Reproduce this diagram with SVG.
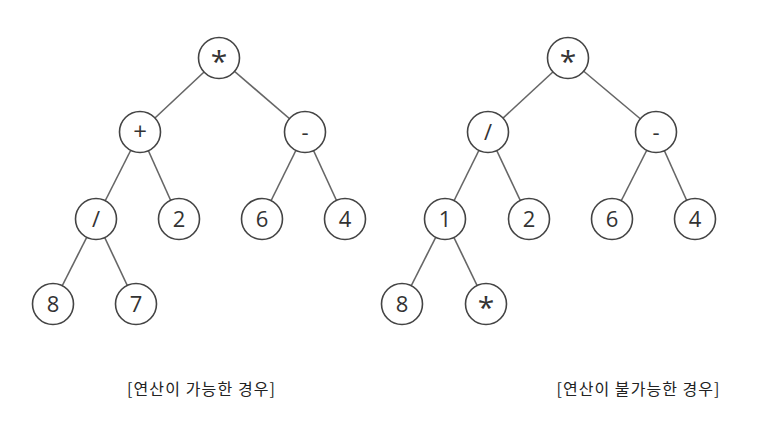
<svg xmlns="http://www.w3.org/2000/svg" width="759" height="427" viewBox="0 0 759 427">
<style>
.n circle{fill:#fff;stroke:#444;stroke-width:1.6}
.n text{font-family:"Open Sans","Noto Sans",sans-serif;font-size:22px;fill:#333;text-anchor:middle}
.n text.s{font-size:30px}
.n text.p{font-size:24px}
#edges line{stroke:#666;stroke-width:1.6}
.lbl{font-family:"Noto Sans CJK KR",sans-serif;font-size:16px;fill:#222;text-anchor:middle}
</style>
<rect width="759" height="427" fill="#fff"/>
<g id="edges">
<line x1="219" y1="58" x2="140" y2="132"/>
<line x1="219" y1="58" x2="305" y2="132"/>
<line x1="140" y1="132" x2="96" y2="219"/>
<line x1="140" y1="132" x2="179" y2="219"/>
<line x1="305" y1="132" x2="262" y2="219"/>
<line x1="305" y1="132" x2="345" y2="219"/>
<line x1="96" y1="219" x2="53" y2="304"/>
<line x1="96" y1="219" x2="136" y2="304"/>
<line x1="568" y1="58" x2="488" y2="132"/>
<line x1="568" y1="58" x2="656" y2="132"/>
<line x1="488" y1="132" x2="445" y2="219"/>
<line x1="488" y1="132" x2="529" y2="219"/>
<line x1="656" y1="132" x2="612" y2="219"/>
<line x1="656" y1="132" x2="695" y2="219"/>
<line x1="445" y1="219" x2="402" y2="304"/>
<line x1="445" y1="219" x2="486" y2="304"/>
</g>
<g id="L-mul" class="n"><circle cx="219" cy="58" r="20.5"/><text class="s" x="219" y="72">*</text></g>
<g id="L-plus" class="n"><circle cx="140" cy="132" r="20.5"/><text class="p" x="140" y="140">+</text></g>
<g id="L-minus" class="n"><circle cx="305" cy="132" r="20.5"/><text x="305" y="140">-</text></g>
<g id="L-div" class="n"><circle cx="96" cy="219" r="20.5"/><text x="96" y="227">/</text></g>
<g id="L-2" class="n"><circle cx="179" cy="219" r="20.5"/><text x="179" y="227">2</text></g>
<g id="L-6" class="n"><circle cx="262" cy="219" r="20.5"/><text x="262" y="227">6</text></g>
<g id="L-4" class="n"><circle cx="345" cy="219" r="20.5"/><text x="345" y="227">4</text></g>
<g id="L-8" class="n"><circle cx="53" cy="304" r="20.5"/><text x="53" y="312">8</text></g>
<g id="L-7" class="n"><circle cx="136" cy="304" r="20.5"/><text x="136" y="312">7</text></g>
<g id="R-mul" class="n"><circle cx="568" cy="58" r="20.5"/><text class="s" x="568" y="72">*</text></g>
<g id="R-div" class="n"><circle cx="488" cy="132" r="20.5"/><text x="488" y="140">/</text></g>
<g id="R-minus" class="n"><circle cx="656" cy="132" r="20.5"/><text x="656" y="140">-</text></g>
<g id="R-1" class="n"><circle cx="445" cy="219" r="20.5"/><text x="445" y="227">1</text></g>
<g id="R-2" class="n"><circle cx="529" cy="219" r="20.5"/><text x="529" y="227">2</text></g>
<g id="R-6" class="n"><circle cx="612" cy="219" r="20.5"/><text x="612" y="227">6</text></g>
<g id="R-4" class="n"><circle cx="695" cy="219" r="20.5"/><text x="695" y="227">4</text></g>
<g id="R-8" class="n"><circle cx="402" cy="304" r="20.5"/><text x="402" y="312">8</text></g>
<g id="R-mul2" class="n"><circle cx="486" cy="304" r="20.5"/><text class="s" x="486" y="318">*</text></g>
<text class="lbl" x="201" y="395" textLength="148" lengthAdjust="spacing">[연산이 가능한 경우]</text>
<text class="lbl" x="638" y="395" textLength="163" lengthAdjust="spacing">[연산이 불가능한 경우]</text>
</svg>
